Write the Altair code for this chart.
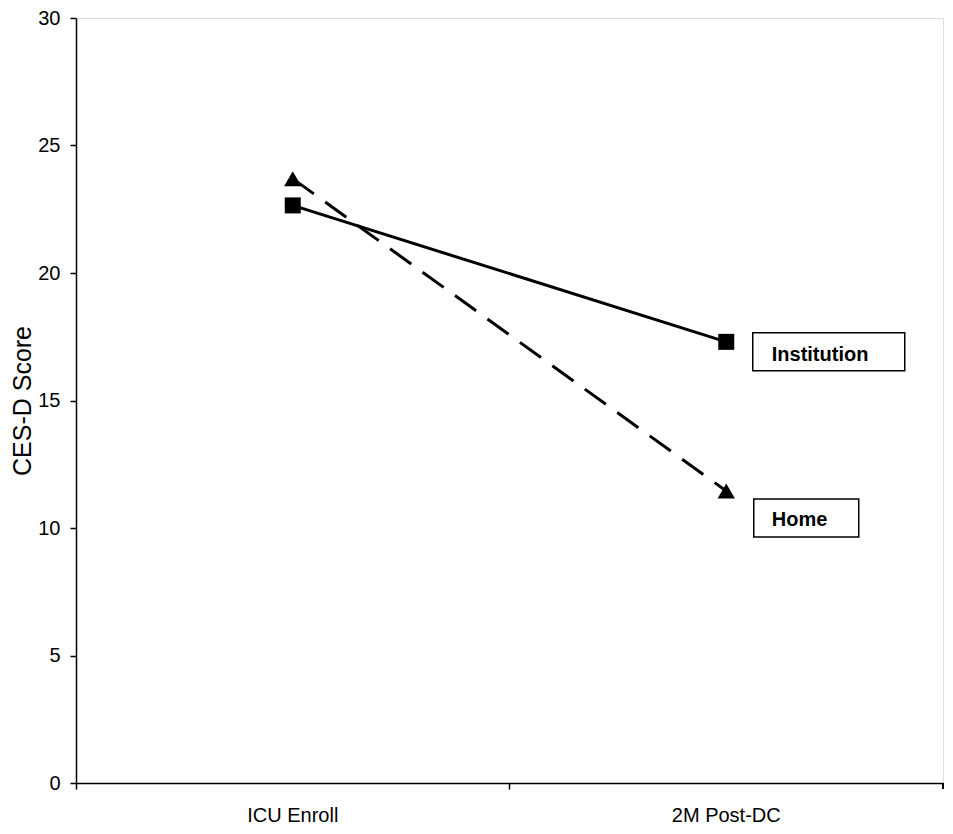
import altair as alt
import pandas as pd

# Data
times = ["ICU Enroll", "2M Post-DC"]
institution = [22.65, 17.3]
home = [23.7, 11.45]
groups = ["Institution", "Home"]
y_ticks = [0, 5, 10, 15, 20, 25, 30]

rows = []
for g, vals in zip(groups, [institution, home]):
    for t, v in zip(times, vals):
        rows.append({"time": t, "group": g, "score": v})
df = pd.DataFrame(rows)

FONT = "Liberation Sans, Arial, Helvetica, sans-serif"
W, H = 867, 765

x_enc = alt.X(
    "time:N",
    sort=times,
    scale=alt.Scale(type="band", paddingInner=0, paddingOuter=0),
    axis=alt.Axis(
        title=None, labelAngle=0, labelFontSize=20, labelColor="black",
        labelFont=FONT, tickSize=6, tickColor="black", tickWidth=1.5,
        domainColor="black", domainWidth=1.5, bandPosition=0,
        labelPadding=16, grid=False,
    ),
)
y_enc = alt.Y(
    "score:Q",
    scale=alt.Scale(domain=[0, 30], nice=False, zero=True),
    axis=alt.Axis(
        values=y_ticks, title="CES-D Score", titleFontSize=25,
        titleFontWeight="normal", titleFont=FONT, titleColor="black",
        titleX=-54, titleY=H / 2, titleAngle=270, titleBaseline="middle",
        titleAlign="center",
        labelFontSize=20, labelFont=FONT, labelColor="black", labelPadding=10,
        tickSize=6, tickColor="black", tickWidth=1.5,
        domainColor="black", domainWidth=1.5, grid=False,
    ),
)

base = alt.Chart(df).encode(x=x_enc, y=y_enc)

inst_line = base.transform_filter(alt.datum.group == "Institution").mark_line(
    color="black", strokeWidth=3
)
home_line = base.transform_filter(alt.datum.group == "Home").mark_line(
    color="black", strokeWidth=3, strokeDash=[26, 14]
)
inst_pts = base.transform_filter(alt.datum.group == "Institution").mark_point(
    shape="square", size=256, filled=True, color="black", opacity=1
)
home_pts = base.transform_filter(alt.datum.group == "Home").mark_point(
    shape="triangle-up", size=300, filled=True, color="black", opacity=1
)

last = base.transform_filter(alt.datum.time == times[-1])

inst_box = last.transform_filter(alt.datum.group == "Institution").mark_point(
    shape="M-1,-0.25H1V0.25H-1Z", size=152 * 152, filled=False,
    stroke="black", strokeWidth=1.5, opacity=1, xOffset=102.5, yOffset=10,
)
home_box = last.transform_filter(alt.datum.group == "Home").mark_point(
    shape="M-1,-0.362H1V0.362H-1Z", size=105 * 105, filled=False,
    stroke="black", strokeWidth=1.5, opacity=1, xOffset=80, yOffset=27,
)
inst_txt = last.transform_filter(alt.datum.group == "Institution").mark_text(
    align="left", baseline="middle", dx=45.5, dy=13, fontSize=20,
    fontWeight="bold", font=FONT, color="black",
).encode(text="group:N")
home_txt = last.transform_filter(alt.datum.group == "Home").mark_text(
    align="left", baseline="middle", dx=45.5, dy=28.5, fontSize=20,
    fontWeight="bold", font=FONT, color="black",
).encode(text="group:N")

end_tick = alt.Chart(df).mark_rule(color="black", strokeWidth=1.5).encode(
    x=alt.value(W), y=alt.value(H), y2=alt.value(H + 6)
)

chart = alt.layer(
    home_line, inst_line, home_pts, inst_pts, inst_box, home_box,
    inst_txt, home_txt, end_tick,
).properties(
    width=W, height=H,
    autosize=alt.AutoSizeParams(type="none"),
    padding={"left": 68, "top": 10, "right": 2, "bottom": 43},
).configure_view(
    stroke="black", strokeWidth=1.5
).configure(background="white")

chart.save("out.html", embed_options={"renderer": "svg", "actions": False})
